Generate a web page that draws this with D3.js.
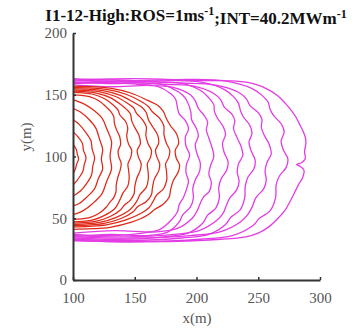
<!DOCTYPE html>
<html><head><meta charset="utf-8">
<script src="https://cdn.jsdelivr.net/npm/d3@7"></script>
<style>
html,body{margin:0;padding:0;background:#fff;}
svg{display:block;}
</style></head>
<body>
<svg id="c" width="352" height="328"></svg>
<script>
const xTicks = [100, 150, 200, 250, 300];
const yTicks = [0, 50, 100, 150, 200];

// Fire-front contours, early times (red) as [x, y] in metres
const redContours = [
  [[96,114],[100,110],[102.5,106],[103.5,102],[104.5,98],[103,94],[102,90],[100,86],[96,82]],
  [[96,124],[100,120],[104,116],[107.5,111],[108.5,105],[110.5,99],[109,93],[108,88],[105,83],[102,79],[100,77],[96,74]],
  [[96,134],[100,130],[105,126],[110,120],[114.5,113],[115.5,106],[117.5,99],[116,92],[115,85],[111,78],[106,72],[100,68],[96,66]],
  [[97,141],[100,139],[106,136],[113,130],[118.5,123],[121.5,114],[124,106],[123,98],[124,90],[120.5,82],[117.5,74],[111,67],[105,62],[100,60],[97,59]],
  [[97,147],[100,146],[108,143],[116,138],[123.5,131],[127.5,122],[131.2,112],[130,100],[131.2,90],[127.3,80],[123.5,70],[116,62],[108,56],[100,53],[97,52.5]],
  [[100,150],[107,149.5],[113.4,148.5],[121.2,145],[127,140],[130.5,136.5],[133,132.3],[133.5,127],[135,122.2],[137.8,116],[138.5,109.6],[136.5,104.5],[137.2,99.5],[139,94.5],[138.3,89.4],[136.3,83],[135,76.8],[134.8,71.5],[133,66.7],[129.5,62.5],[127,59.1],[121.2,54],[113.4,50.5],[107,49.5],[100,49]],
  [[100,152],[108,151.5],[116.2,150.4],[125.6,146.8],[132.8,141.5],[136.5,137.5],[138,133.6],[142.5,128.5],[144.3,123.1],[143.5,116.5],[145,110],[147.5,105],[146.8,99.5],[144.5,94],[145,89],[145.5,82.5],[144.3,75.9],[140.5,70.5],[138.2,65.4],[136.3,61.5],[133.5,57.5],[125.6,52.3],[116.2,48.6],[108,47.5],[100,47]],
  [[100,153],[109,152.5],[119,151.4],[130.1,147.7],[138.4,142.3],[143.5,138],[146.6,134.3],[147.5,129],[150,123.6],[153.5,117],[154.5,110.2],[152,105],[153,99.5],[155.2,94],[154.4,88.8],[151.5,82],[150,75.4],[149.5,70],[146.5,64.7],[141.5,60.5],[138.4,56.7],[130.1,51.4],[119,47.6],[109,46.5],[100,46]],
  [[100,154],[110,153.5],[121.8,152.4],[134.5,148.6],[144.1,143.1],[149,139.5],[151.5,134.9],[156.5,129.5],[159.4,124],[159,117],[160.8,110.4],[163.5,105],[162.8,99.5],[160.2,94],[160.7,88.6],[161,82],[159.3,75],[154.5,69.5],[151.8,64.1],[149,60],[144.8,55.9],[134.5,50.5],[121.8,46.6],[110,45.5],[100,45]],
  [[100,155],[112,154.5],[124.3,153.3],[138.4,149.5],[149.1,143.9],[155.5,140],[159.3,135.6],[161,130],[164.2,124.5],[168.5,117.5],[169.3,110.6],[166.8,105],[168,99.5],[170.2,94],[169.4,88.4],[165.8,81.5],[164.3,74.5],[163.5,69],[159.2,63.4],[152.5,59.5],[148.5,55.1],[138.4,49.6],[124.3,45.7],[112,44.5],[100,44]],
  [[100,156],[113,155.5],[127.1,154.3],[142.9,150.4],[154.8,144.7],[161,140.5],[164.3,136.2],[170.5,130.5],[173.5,124.9],[173.7,117.5],[175.6,110.8],[178.3,105],[177.6,99.5],[175,94],[175.7,88.2],[175.9,81],[173.4,74.1],[167.5,68.5],[164.4,62.8],[161.5,58.5],[155.5,54.3],[142.9,48.7],[127.1,44.7],[113,43.5],[100,43]],
  [[100,157],[115,156.5],[129.9,155.3],[147.3,151.2],[160.5,145.4],[168.5,141.5],[173,136.7],[175.5,131],[178.8,125.1],[184,118],[185.5,110.6],[182.8,105],[183.5,99],[186.3,93],[185.2,87.4],[181,80],[179,72.9],[177.8,67],[173,61.3],[166,57],[160.5,52.6],[147.3,46.8],[129.9,42.7],[115,41.5],[100,41]]
];

// Fire-front contours, later times (magenta)
const magentaContours = [
  [[100,159],[126,160],[152,158.5],[168,157],[179,151],[183,146.5],[184.5,140],[186,134.5],[191,129],[193.5,122],[191,116],[191.5,108.5],[194.5,101],[192,94],[191.5,87],[193.5,80],[191.7,73],[189.5,67],[186,61],[184.5,55],[180,49],[170.5,41],[156.4,38],[128,36],[100,37]],
  [[100,160],[128,159],[156,159.5],[173,158],[186,152],[191,147],[194,141],[195.5,135.5],[196,130],[199.5,123.5],[201.5,117],[199,109.5],[200.5,102],[203,95],[202.5,88],[199,81],[197,74],[197.5,66.5],[195,59],[189,53],[186,47],[177,39],[161,36],[130,37],[100,35]],
  [[100,158],[131,156.5],[162,157.5],[181,156],[195,150],[199,145],[201.5,139],[206,133.5],[209,128],[208,121.5],[210,115],[212.5,107.5],[214,100],[211.5,93],[210,86],[212,79],[210.5,72],[205.5,67],[203,62],[200.5,56],[196.5,50],[185,42],[168,39],[134,40],[100,38]],
  [[100,161],[134,162],[168,160.5],[189,159],[204,153],[210,147.5],[214,142],[214.5,136.5],[217,131],[221.5,124.5],[223.5,118],[221,110.5],[222.5,103],[225.5,96],[224.5,89],[220,82],[218,75],[218.5,66.5],[215.5,58],[209,52.5],[205,46],[193,38],[174,35],[137,33],[100,34]],
  [[100,159],[137,160.5],[175,158.5],[198,157],[214,151],[219.5,146],[222.5,140],[228.5,134.5],[231,129],[230,122.5],[232.5,116],[236,108.5],[237.5,101],[234,94],[233,87],[234.5,80],[232.5,73],[227,66.5],[224,60],[221.5,54],[216,48],[202,40],[182,37],[141,35],[100,36]],
  [[100,162],[140,160.5],[180,161.5],[205,160],[223,154],[230,148.5],[234,143],[235.5,137.5],[238,132],[243,125.5],[245,119],[242.5,111.5],[244.5,104],[247.5,97],[246.5,90],[241.5,83],[239.5,76],[239,66.5],[235.5,57],[228,51],[223.5,45],[210,37],[188,34],[144,32],[100,33]],
  [[100,160],[144,161],[187.5,159.5],[214.5,158],[234,152],[240.5,146.5],[243.5,141],[250,135.5],[253,130],[252.5,123.5],[255,117],[259,109.5],[260.5,102],[257,95],[255.5,88],[256.5,81],[254.5,74],[248,66.5],[245,59],[241.5,53],[235.5,47],[219,39],[195,36],[148,34],[100,35]],
  [[100,163],[148,161.5],[195,162.5],[224,161],[245,155],[253,149.5],[258,144],[259.5,138.5],[262.5,133],[268.5,126.5],[271,120],[268.5,112.5],[270.5,105],[274,98],[272.5,91],[267,84],[264.5,77],[264,66.5],[259.5,56],[251,50],[245.5,44],[229,36],[203,33],[151,31],[100,32]],
  [[100,162],[150,163],[200,161.5],[232,161],[246,159],[258.5,154],[266,149],[272,143],[277,137],[280.5,132],[283,127],[286,121],[288,116],[288.6,111],[287.5,104],[288,98],[285,95],[281,93.5],[284,92],[287,89],[286,83],[283,78],[280.5,73],[277,66],[272,57],[266,50],[258.5,43],[250,38],[240,35],[220,33],[160,31],[100,32]]
];

const svg = d3.select('#c');
const x = d3.scaleLinear().domain([100, 300]).range([73, 320]);
const y = d3.scaleLinear().domain([0, 200]).range([280, 33]);

svg.append('defs').append('clipPath').attr('id','clip')
  .append('rect')
  .attr('x', x(100)).attr('y', y(200))
  .attr('width', x(300) - x(100)).attr('height', y(0) - y(200));

const line = d3.line().x(d => x(d[0])).y(d => y(d[1])).curve(d3.curveCatmullRom.alpha(0.5));

const g = svg.append('g').attr('clip-path','url(#clip)');
g.selectAll('path.m').data(magentaContours).join('path')
  .attr('class','m').attr('d', line)
  .attr('fill','none').attr('stroke','#e43ce4').attr('stroke-width',1.3);
g.selectAll('path.r').data(redContours).join('path')
  .attr('class','r').attr('d', line)
  .attr('fill','none').attr('stroke','#e02818').attr('stroke-width',1.25);

const font = '"Liberation Serif", "Times New Roman", serif';

const xa = svg.append('g').attr('transform',`translate(0,${y(0)})`)
  .call(d3.axisBottom(x).tickValues(xTicks).tickSizeInner(-3).tickSizeOuter(0).tickPadding(12));
const ya = svg.append('g').attr('transform',`translate(${x(100)},0)`)
  .call(d3.axisLeft(y).tickValues(yTicks).tickSizeInner(-3).tickSizeOuter(0).tickPadding(6));
[xa, ya].forEach(a => {
  a.attr('font-family', null);
  a.select('.domain').attr('stroke','#333').attr('stroke-width',2);
  a.selectAll('.tick line').attr('stroke','#333').attr('stroke-width',1.5);
  a.selectAll('.tick text').attr('fill','#555').style('font-family',font).style('font-size','15px');
});

svg.append('text').attr('x', 197).attr('y', 323).attr('text-anchor','middle')
  .style('font-family',font).style('font-size','15px').attr('fill','#555').text('x(m)');
svg.append('text').attr('transform','translate(31,137) rotate(-90)').attr('text-anchor','middle')
  .style('font-family',font).style('font-size','15px').attr('fill','#555').text('y(m)');

const t = svg.append('text').attr('x', 196).attr('y', 21).attr('text-anchor','middle')
  .style('font-family',font).style('font-size','17px').style('font-weight','bold').attr('fill','#111');
t.append('tspan').text('I1-12-High:ROS=1ms');
t.append('tspan').attr('dy','-0.5em').style('font-size','12px').text('-1');
t.append('tspan').attr('dy','0.5em').text(';INT=40.2MWm');
t.append('tspan').attr('dy','-0.5em').style('font-size','12px').text('-1');
</script>
</body></html>
